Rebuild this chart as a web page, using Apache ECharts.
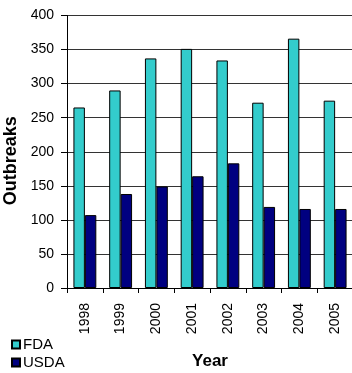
<!DOCTYPE html>
<html>
<head>
<meta charset="utf-8">
<script src="https://cdn.jsdelivr.net/npm/echarts@6/dist/echarts.min.js"></script>
<style>
  html, body { margin: 0; padding: 0; background: #fff; }
  #main { width: 352px; height: 373px; }
</style>
</head>
<body>
<div id="main"></div>
<script>
// data
const years = ['1998', '1999', '2000', '2001', '2002', '2003', '2004', '2005'];
const fdaOutbreaks = [265, 290, 337, 351, 334, 272, 366, 275];
const usdaOutbreaks = [107, 138, 149, 164, 183, 119, 116, 116];
const yTicks = { min: 0, max: 400, interval: 50 };

const font = 'Liberation Sans, Arial, sans-serif';

let chart = echarts.init(document.getElementById('main'));
let option = {
  animation: false,
  textStyle: { fontFamily: font },
  grid: { left: 67, right: -1, top: 15.5, bottom: 85, outerBoundsMode: 'none', containLabel: false },
  legend: {
    orient: 'vertical',
    left: 11,
    top: 337,
    padding: 0,
    itemWidth: 8,
    itemHeight: 8,
    itemGap: 3,
    icon: 'rect',
    textStyle: { fontSize: 15, color: '#000', padding: [0, 0, 0, -2] },
    data: ['FDA', 'USDA']
  },
  xAxis: {
    type: 'category',
    data: years,
    name: 'Year',
    nameLocation: 'middle',
    nameGap: 65,
    nameTextStyle: { fontSize: 17, fontWeight: 'bold', color: '#000' },
    axisLine: { lineStyle: { color: '#000' } },
    axisTick: { show: true, length: 5, lineStyle: { color: '#000' } },
    axisLabel: { rotate: 90, fontSize: 14, color: '#000', margin: 15 }
  },
  yAxis: {
    type: 'value',
    min: yTicks.min,
    max: yTicks.max,
    interval: yTicks.interval,
    name: 'Outbreaks',
    nameLocation: 'middle',
    nameGap: 41,
    nameTextStyle: { fontSize: 18, fontWeight: 'bold', color: '#000', padding: [0, 18, 0, 0] },
    axisLine: { show: true, lineStyle: { color: '#000' } },
    axisTick: { show: true, length: 6, lineStyle: { color: '#000' } },
    axisLabel: { fontSize: 14, color: '#000', margin: 13 },
    splitLine: { lineStyle: { color: '#333', width: 1 } }
  },
  series: [
    {
      name: 'FDA',
      type: 'bar',
      data: fdaOutbreaks,
      barGap: '0%',
      barCategoryGap: '36%',
      itemStyle: { color: '#33CCCC', borderColor: '#000', borderWidth: 1 }
    },
    {
      name: 'USDA',
      type: 'bar',
      data: usdaOutbreaks,
      itemStyle: { color: '#000080', borderColor: '#000', borderWidth: 1 }
    }
  ]
};
chart.setOption(option);
</script>
</body>
</html>
